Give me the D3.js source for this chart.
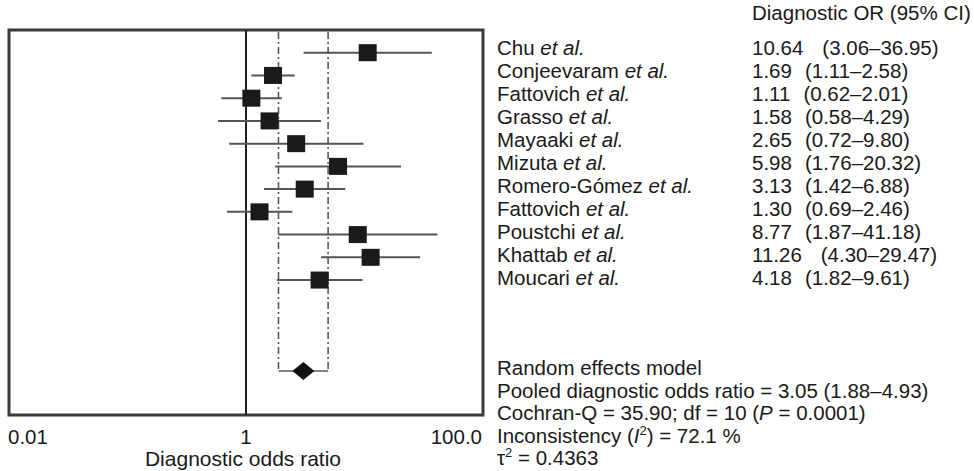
<!DOCTYPE html>
<html>
<head>
<meta charset="utf-8">
<script src="https://cdn.jsdelivr.net/npm/d3@7"></script>
<style>
  body { margin: 0; background: #fff; }
  svg text { font-family: "Liberation Sans", Arial, Helvetica, sans-serif; fill: #1a1a1a; }
</style>
</head>
<body>
<svg id="chart" width="974" height="471"></svg>
<script>
// forest plot, diagnostic odds ratios per study + pooled random effects estimate

var studies = ["Chu", "Conjeevaram", "Fattovich", "Grasso", "Mayaaki", "Mizuta",
	"Romero-Gómez", "Fattovich", "Poustchi", "Khattab", "Moucari"];
var or = [10.64, 1.69, 1.11, 1.58, 2.65, 5.98, 3.13, 1.30, 8.77, 11.26, 4.18];
var lo = [3.06, 1.11, 0.62, 0.58, 0.72, 1.76, 1.42, 0.69, 1.87, 4.30, 1.82];
var hi = [36.95, 2.58, 2.01, 4.29, 9.80, 20.32, 6.88, 2.46, 41.18, 29.47, 9.61];

var pooled = [3.05, 1.88, 4.93]; // estimate, lower, upper
var xTicks = [0.01, 1, 100];
var xTickLabels = ["0.01", "1", "100.0"];

var svg = d3.select("#chart");

var box = {left: 9, right: 483, top: 30, bottom: 415};

var x = d3.scaleLog().domain([0.01, 100]).range([box.left, box.right]);
// rows 0..10 are studies, row 14 is the pooled diamond
var y = d3.scaleLinear().domain([0, 14]).range([52.7, 371]);
var yText = d3.scaleLinear().domain([0, 1]).range([55, 78]);

var fmt = d3.format(".2f");

// frame
svg.append("rect")
	.attr("x", box.left).attr("y", box.top)
	.attr("width", box.right - box.left).attr("height", box.bottom - box.top)
	.attr("fill", "none")
	.attr("stroke", "#3a3a3a")
	.attr("stroke-width", 3);

// line of no effect
svg.append("line")
	.attr("x1", x(1)).attr("x2", x(1))
	.attr("y1", box.top).attr("y2", box.bottom)
	.attr("stroke", "#1f1f1f")
	.attr("stroke-width", 2);

// pooled CI bracket (dash-dot)
var bracket = svg.append("g")
	.attr("fill", "none")
	.attr("stroke", "#5a5a5a")
	.attr("stroke-width", 1.6);
[pooled[1], pooled[2]].forEach(function(v) {
	bracket.append("line")
		.attr("x1", x(v)).attr("x2", x(v))
		.attr("y1", box.top + 2).attr("y2", y(14))
		.attr("stroke-dasharray", "7,3,2,3");
});
bracket.append("line")
	.attr("x1", x(pooled[1])).attr("x2", x(pooled[2]))
	.attr("y1", y(14)).attr("y2", y(14));

// study CIs and squares
var rows = svg.append("g").selectAll("g")
	.data(or)
	.enter().append("g");

rows.append("line")
	.attr("x1", function(d, i) { return x(lo[i]); })
	.attr("x2", function(d, i) { return x(hi[i]); })
	.attr("y1", function(d, i) { return y(i); })
	.attr("y2", function(d, i) { return y(i); })
	.attr("stroke", "#555")
	.attr("stroke-width", 2);

var sq = 18;
rows.append("rect")
	.attr("x", function(d) { return x(d) - sq / 2; })
	.attr("y", function(d, i) { return y(i) - 8.5; })
	.attr("width", sq)
	.attr("height", 17)
	.attr("fill", "#1a1a1a");

// pooled diamond
var dw = 11, dh = 9;
svg.append("path")
	.attr("d", "M" + [x(pooled[0]) - dw, y(14)] + "L" + [x(pooled[0]), y(14) - dh] +
		"L" + [x(pooled[0]) + dw, y(14)] + "L" + [x(pooled[0]), y(14) + dh] + "Z")
	.attr("fill", "#111");

// axis labels
svg.append("g").selectAll("text")
	.data(xTicks)
	.enter().append("text")
	.attr("x", function(d, i) { return i === 0 ? box.left - 1 : (i === 2 ? box.right - 1 : x(d)); })
	.attr("y", 444)
	.attr("text-anchor", function(d, i) { return ["start", "middle", "end"][i]; })
	.style("font-size", "20.5px")
	.text(function(d, i) { return xTickLabels[i]; });

svg.append("text")
	.attr("x", 243).attr("y", 466)
	.attr("text-anchor", "middle")
	.style("font-size", "21px")
	.text("Diagnostic odds ratio");

// right hand table
var fs = "20.5px";
var nameX = 497, estX = 752;

svg.append("text")
	.attr("x", estX).attr("y", 20)
	.style("font-size", fs)
	.text("Diagnostic OR (95% CI)");

var names = svg.append("g").selectAll("text")
	.data(studies)
	.enter().append("text")
	.attr("x", nameX)
	.attr("y", function(d, i) { return yText(i); })
	.style("font-size", fs);
names.append("tspan").text(function(d) { return d + " "; });
names.append("tspan").style("font-style", "italic").text("et al.");

var est = svg.append("g").selectAll("text")
	.data(or)
	.enter().append("text")
	.attr("x", estX)
	.attr("y", function(d, i) { return yText(i); })
	.style("font-size", fs)
	.text(function(d) { return fmt(d); });

est.each(function(d, i) {
	var w = this.getComputedTextLength();
	svg.append("text")
		.attr("x", estX + w + (d >= 10 ? 19 : 13))
		.attr("y", yText(i))
		.style("font-size", fs)
		.text("(" + fmt(lo[i]) + "\u2013" + fmt(hi[i]) + ")");
});

// summary block
var sy = d3.scaleLinear().domain([0, 1]).range([375, 397.5]);
var summary = svg.append("g").style("font-size", fs);

summary.append("text").attr("x", nameX).attr("y", sy(0))
	.text("Random effects model");
summary.append("text").attr("x", nameX).attr("y", sy(1))
	.text("Pooled diagnostic odds ratio = " + fmt(pooled[0]) + " (" + fmt(pooled[1]) + "\u2013" + fmt(pooled[2]) + ")");

var q = summary.append("text").attr("x", nameX).attr("y", sy(2));
q.append("tspan").text("Cochran-Q = 35.90; df = 10 (");
q.append("tspan").style("font-style", "italic").text("P");
q.append("tspan").text(" = 0.0001)");

var inc = summary.append("text").attr("x", nameX).attr("y", sy(3));
inc.append("tspan").text("Inconsistency (");
inc.append("tspan").style("font-style", "italic").text("I");
inc.append("tspan").attr("dy", -8).style("font-size", "13px").text("2");
inc.append("tspan").attr("dy", 8).text(") = 72.1 %");

var tau = summary.append("text").attr("x", nameX).attr("y", sy(4));
tau.append("tspan").text("\u03c4");
tau.append("tspan").attr("dy", -8).style("font-size", "13px").text("2");
tau.append("tspan").attr("dy", 8).text(" = 0.4363");
</script>
</body>
</html>
